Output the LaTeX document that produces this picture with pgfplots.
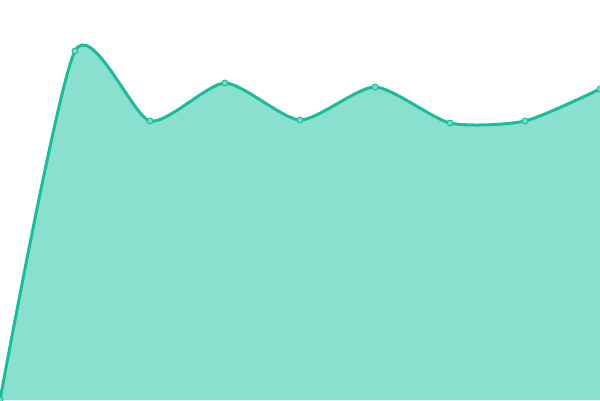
\documentclass[border=0pt]{standalone}
\usepackage{pgfplots}
\pgfplotsset{compat=1.18}
\definecolor{lineteal}{HTML}{1ABC9C}
\definecolor{fillteal}{HTML}{89E0CE}
\definecolor{markteal}{HTML}{76DBC5}
\begin{document}
\begin{tikzpicture}
\begin{axis}[
  width=600pt, height=400pt, scale only axis,
  xmin=0, xmax=600, ymin=0, ymax=400,
  axis lines=none, clip=true, clip marker paths=true,
]
\addplot[fill=fillteal, draw=none, smooth, tension=0.4] coordinates {
  (0,0) (75,349) (150,279) (225,317) (300,280) (375,313) (450,277) (525,279) (600,311)
} \closedcycle;
\addplot[lineteal, line width=3pt, smooth, tension=0.4,
  mark=*, mark size=3pt,
  mark options={fill=markteal, draw=lineteal, line width=0.9pt}] coordinates {
  (0,0) (75,349) (150,279) (225,317) (300,280) (375,313) (450,277) (525,279) (600,311)
};
\end{axis}
\pgfresetboundingbox
\path (current axis.south west) rectangle (current axis.north east);
\end{tikzpicture}
\end{document}
